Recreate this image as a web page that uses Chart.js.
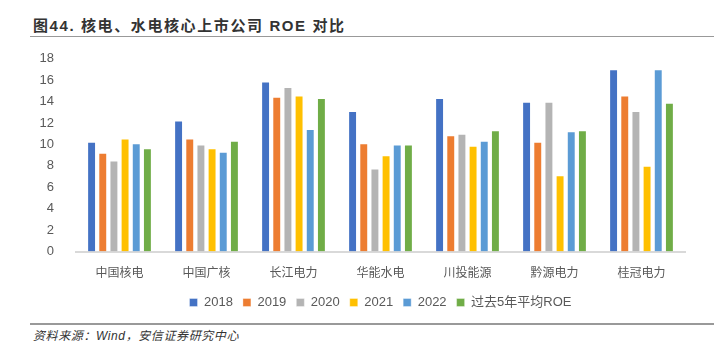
<!DOCTYPE html>
<html><head><meta charset="utf-8">
<script src="https://cdn.jsdelivr.net/npm/chart.js@4.4.1/dist/chart.umd.min.js"></script>
<style>
html,body{margin:0;padding:0;background:#fff;width:714px;height:350px;overflow:hidden;position:relative;font-family:"Liberation Sans","Noto Sans CJK SC",sans-serif;}
#title{position:absolute;left:33px;top:14px;font-size:15px;font-weight:bold;color:#333;font-family:"Liberation Sans","Noto Sans CJK SC",sans-serif;letter-spacing:1.6px;}
#tline{position:absolute;left:30px;top:36px;width:684px;height:1px;background:#999;}
#bline{position:absolute;left:30px;top:323px;width:684px;height:2px;background:#999;}
#src{position:absolute;left:33px;top:326px;font-size:12px;font-style:italic;color:#333;font-family:"Liberation Sans","Noto Sans CJK SC",sans-serif;letter-spacing:0.6px;}
#wrap{position:absolute;left:0;top:37px;width:714px;height:284px;}
</style></head><body>
<div id="title">图44. 核电、水电核心上市公司 ROE 对比</div>
<div id="tline"></div>
<div id="wrap"><canvas id="c"></canvas></div>
<div id="bline"></div>
<div id="src">资料来源：Wind，安信证券研究中心</div>
<script>
const categories = ["中国核电","中国广核","长江电力","华能水电","川投能源","黔源电力","桂冠电力"];
const seriesNames = ["2018","2019","2020","2021","2022","过去5年平均ROE"];
const v2018 = [10.25,12.24,15.89,13.13,14.33,13.99,17.02];
const v2019 = [9.23,10.55,14.45,10.12,10.86,10.25,14.57];
const v2020 = [8.5,10.0,15.37,7.76,11.01,13.99,13.13];
const v2021 = [10.55,9.66,14.57,8.99,9.88,7.12,8.01];
const v2022 = [10.12,9.33,11.44,10.0,10.34,11.23,17.02];
const vAvg  = [9.66,10.34,14.33,10.0,11.32,11.32,13.9];
const yTicks = [0,2,4,6,8,10,12,14,16,18];
const colors = ["#4472C4","#ED7D31","#B4B4B4","#FFC000","#5B9BD5","#70AD47"];
const allValues = [v2018,v2019,v2020,v2021,v2022,vAvg];

new Chart(document.getElementById('c'), {
  type: 'bar',
  data: {
    labels: categories,
    datasets: allValues.map((d,i)=>({
      label: seriesNames[i], data: d, backgroundColor: colors[i],
      borderColor: 'rgba(255,255,255,0.35)', borderWidth: 1,
      categoryPercentage: 0.77, barPercentage: 0.8
    }))
  },
  options: {
    responsive: true, maintainAspectRatio: false, animation: false,
    layout: { padding: { left: 0, right: 29, top: 2, bottom: 2 } },
    plugins: {
      legend: {
        position: 'bottom', fullSize: false,
        labels: { boxWidth: 8, boxHeight: 8, color: '#595959', padding: 10,
          font: { size: 13, family: '"Liberation Sans","Noto Sans CJK SC",sans-serif' } }
      },
      tooltip: { enabled: false }
    },
    scales: {
      x: {
        grid: { display: false },
        border: { display: true, color: '#D9D9D9', width: 2 },
        ticks: { color: '#595959', font: { size: 12, family: '"Noto Sans CJK SC",sans-serif' }, padding: 6 }
      },
      y: {
        min: 0, max: 18,
        afterBuildTicks: ax => { ax.ticks = yTicks.map(v=>({value:v})); },
        afterFit: ax => { ax.width = 76; },
        grid: { display: false },
        border: { display: false },
        ticks: { color: '#595959', padding: 14, font: { size: 13, family: '"Liberation Sans",sans-serif' } }
      }
    }
  }
});
</script>
</body></html>
